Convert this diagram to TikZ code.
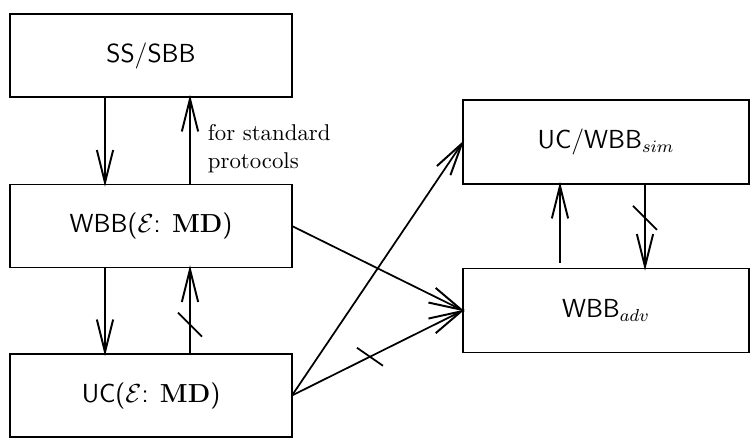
\documentclass[tikz,border=0pt]{standalone}
\usepackage{amsmath}
\usepackage{amssymb}
\usetikzlibrary{arrows.meta, calc}
\tikzstyle{diagram} = [x = 0.46pt, y = -0.46pt]
\tikzstyle{boxStyle} = [draw, thick, font=\sffamily\large, minimum width = 129.7pt, minimum height = 38.2pt, inner sep = 0pt, outer sep = 0pt]
\tikzstyle{arrowStyle} = [thick, -{Straight Barb[length = 15pt, width = 7.5pt, line width = 0.9pt]}, shorten > = -1pt]
\tikzstyle{cutStyle} = [thick]
\tikzstyle{labelText} = [align = left, right = 4.5pt, font = \fontsize{10.5}{12.5}\selectfont]
\newcommand{\cutMark}[3]{\draw [cutStyle] ($(#1) + (-#2,-#3)$) -- ($(#1) + (#2,#3)$);}

\begin{document}
\begin{tikzpicture}[diagram]
  \useasboundingbox (0,0) rectangle (756,446);

  % boxes on the left
  \node [boxStyle] (ss) at (151,55.5) {SS/SBB};
  \node [boxStyle] (wbb) at (151,226) {WBB($\mathcal{E}$: $\mathbf{MD}$)};
  \node [boxStyle] (uc) at (151,395.5) {UC($\mathcal{E}$: $\mathbf{MD}$)};

  % boxes on the right
  \node [boxStyle, minimum width = 131.6pt, minimum height = 38.6pt] (sim) at (606,142) {UC/WBB$_{sim}$};
  \node [boxStyle, minimum width = 131.6pt, minimum height = 38.6pt] (adv) at (606,310.5) {WBB$_{adv}$};

  % left column
  \draw [arrowStyle] ($(ss.south) + (-46,0)$) -- ($(wbb.north) + (-46,0)$);
  \draw [arrowStyle] ($(wbb.north) + (39,0)$) -- node [labelText, pos = 0.41] {for standard\\protocols} ($(ss.south) + (39,0)$);
  \draw [arrowStyle] ($(wbb.south) + (-46,0)$) -- ($(uc.north) + (-46,0)$);
  \draw [arrowStyle] ($(uc.north) + (39,0)$) -- coordinate [pos = 0.34] (cutA) ($(wbb.south) + (39,0)$);
  \cutMark{cutA}{12}{12}

  % right column
  \draw [arrowStyle] ($(adv.north) + (-46,-6)$) -- ($(sim.south) + (-46,0)$);
  \draw [arrowStyle] ($(sim.south) + (39,0)$) -- coordinate [pos = 0.4] (cutB) ($(adv.north) + (39,0)$);
  \cutMark{cutB}{12}{12}

  % across
  \draw [arrowStyle] (wbb.east) -- (adv.west);
  \draw [arrowStyle] (uc.east) -- (sim.west);
  \draw [arrowStyle] (uc.east) -- coordinate [pos = 0.456] (cutC) (adv.west);
  \cutMark{cutC}{13}{9}
\end{tikzpicture}
\end{document}
